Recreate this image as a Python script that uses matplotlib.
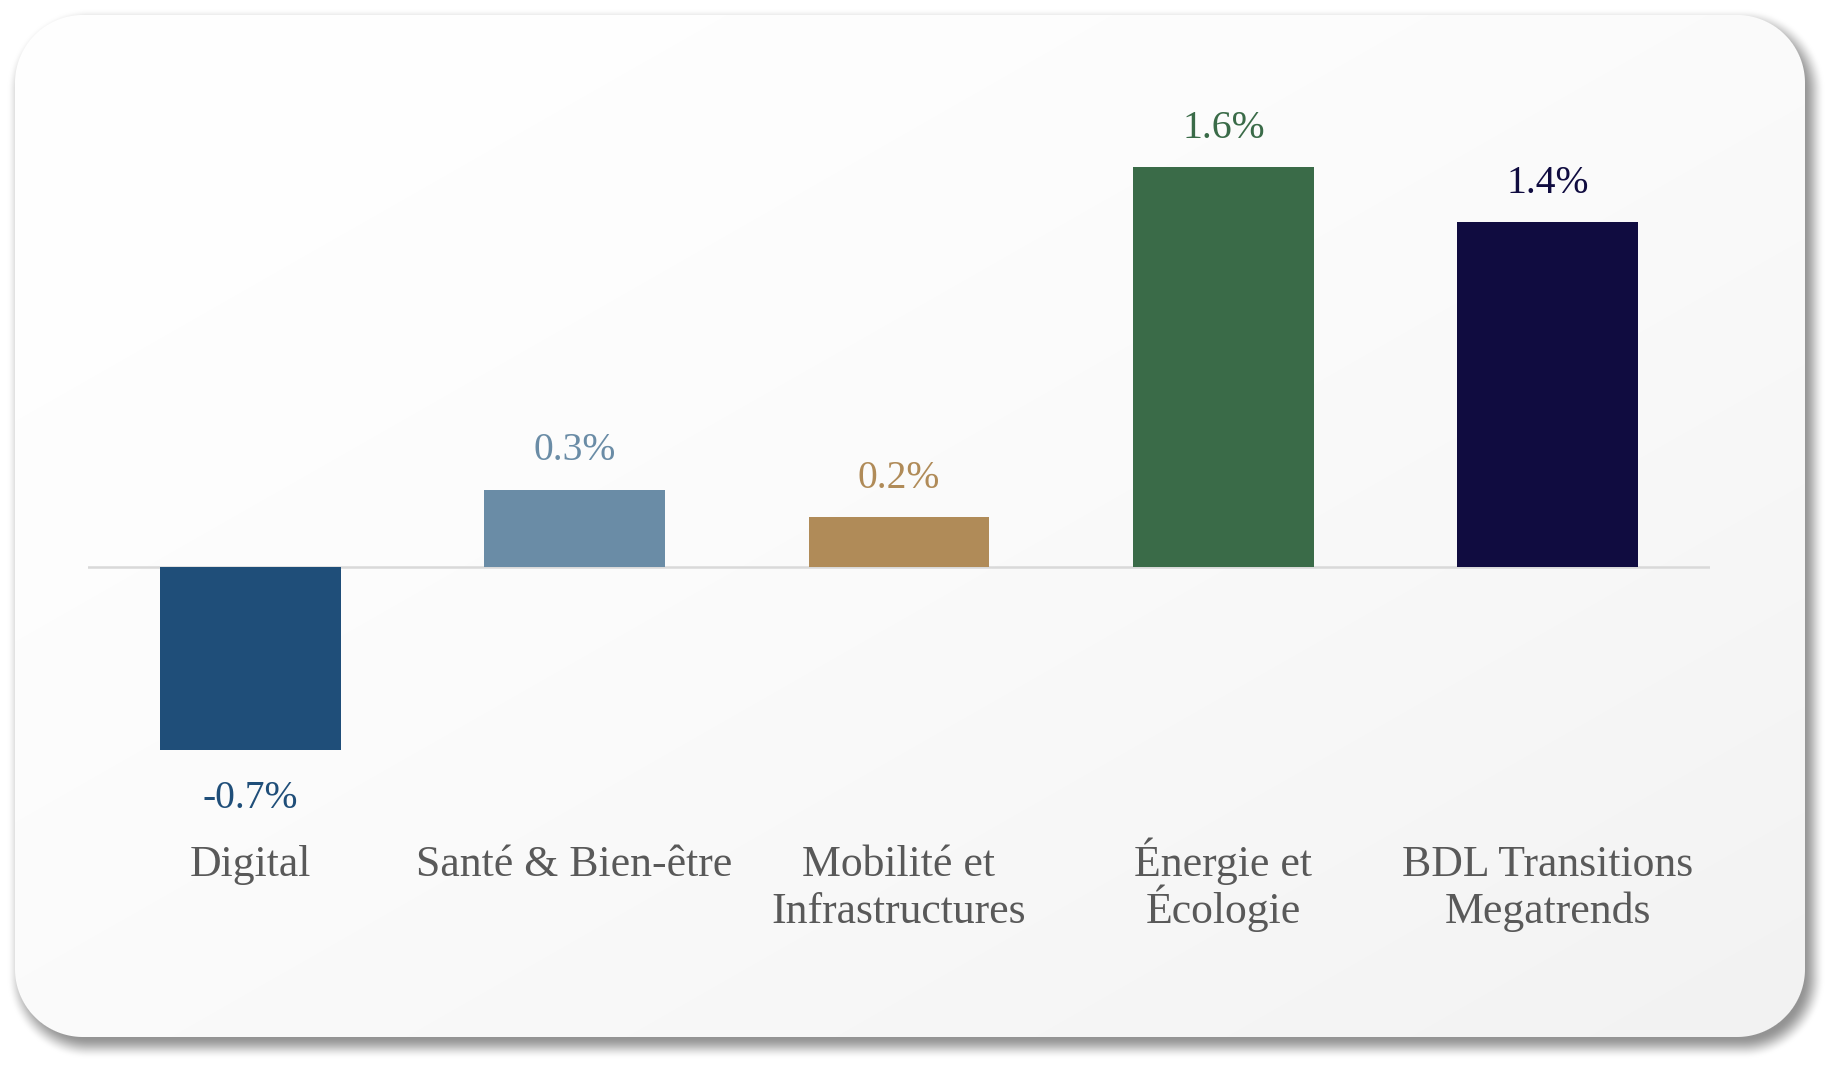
import numpy as np
import matplotlib
matplotlib.use("Agg")
import matplotlib.pyplot as plt

# valeurs (%)
categories = ["Digital", "Santé & Bien-être", "Mobilité et\nInfrastructures",
              "Énergie et\nÉcologie", "BDL Transitions\nMegatrends"]
valeurs = [-0.73, 0.31, 0.20, 1.60, 1.38]
etiquettes = ["-0.7%", "0.3%", "0.2%", "1.6%", "1.4%"]
couleurs = ["#1f4e79", "#6a8ca6", "#b08b58", "#3a6b48", "#100c40"]

W, H = 1833, 1066
plt.rcParams['font.family'] = ['Liberation Serif', 'DejaVu Serif']

fig = plt.figure(figsize=(W / 100, H / 100), dpi=100)

# fond : carte arrondie avec ombre et dégradé
ax_bg = fig.add_axes([0, 0, 1, 1])
ax_bg.set_axis_off()

def rounded_sdf(xx, yy, x0, y0, x1, y1, r):
    cx, cy = (x0 + x1) / 2, (y0 + y1) / 2
    hx, hy = (x1 - x0) / 2 - r, (y1 - y0) / 2 - r
    qx = np.abs(xx - cx) - hx
    qy = np.abs(yy - cy) - hy
    out = np.hypot(np.maximum(qx, 0), np.maximum(qy, 0))
    inside = np.minimum(np.maximum(qx, qy), 0)
    return out + inside - r

yy, xx = np.mgrid[0:H, 0:W] + 0.5
x0, y0, x1, y1, rad = 15, 15, 1805, 1037, 68

d_sh = rounded_sdf(xx, yy, x0 + 6, y0 + 8, x1 + 6, y1 + 8, rad)
t_sh = np.clip((d_sh + 8) / 22, 0, 1)
a_sh = 0.42 * (1 - t_sh * t_sh * (3 - 2 * t_sh))

img = np.ones((H, W))
img = img * (1 - a_sh)

d_card = rounded_sdf(xx, yy, x0, y0, x1, y1, rad)
a_card = np.clip(0.5 - d_card, 0, 1)
t = np.clip(((xx - x0) / (x1 - x0) + (yy - y0) / (y1 - y0)) / 2, 0, 1)
card = 1 - 0.052 * t ** 1.6
img = img * (1 - a_card) + card * a_card

ax_bg.imshow(np.dstack([img, img, img]), extent=[0, W, H, 0], interpolation='nearest')
ax_bg.set_xlim(0, W)
ax_bg.set_ylim(H, 0)

# axes du graphique (250 px par point de %)
top_px, bot_px, zero_px, ppu = 100, 1000, 567, 250
ax = fig.add_axes([88 / W, (H - bot_px) / H, (1710 - 88) / W, (bot_px - top_px) / H])
ax.patch.set_visible(False)
ax.set_xlim(-0.5, len(categories) - 0.5)
ax.set_ylim(-(bot_px - zero_px) / ppu, (zero_px - top_px) / ppu)
for s in ax.spines.values():
    s.set_visible(False)
ax.set_xticks([])
ax.set_yticks([])

x = np.arange(len(categories))
ax.axhline(0, color="#d9d9d9", lw=1.8, zorder=1)
ax.bar(x, valeurs, width=0.557, color=couleurs, zorder=2)

for i, (v, lab, c) in enumerate(zip(valeurs, etiquettes, couleurs)):
    off = 21 if v >= 0 else -42
    ax.annotate(lab, (i, v), xytext=(0, off), textcoords='offset points',
                ha='center', va='baseline', fontsize=28.5, color=c)

# étiquettes des catégories
for i, cat in enumerate(categories):
    for j, ligne in enumerate(cat.split("\n")):
        y_px = 876 + 47 * j
        ax.text(i, -(y_px - zero_px) / ppu, ligne, ha='center', va='baseline',
                fontsize=31.5, color="#595959")

fig.savefig("out.png", dpi=100)
